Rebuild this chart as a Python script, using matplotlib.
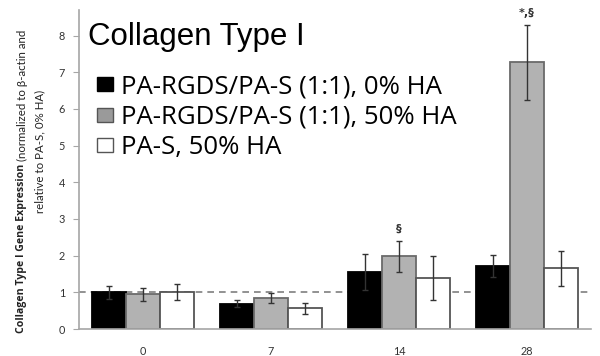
import matplotlib
matplotlib.use("Agg")
import matplotlib.pyplot as plt
import numpy as np
from matplotlib.patches import Rectangle

days = ["0", "7", "14", "28"]
series_names = ["PA-RGDS/PA-S (1:1), 0% HA", "PA-RGDS/PA-S (1:1), 50% HA", "PA-S, 50% HA"]
vals_black = [1.00, 0.69, 1.55, 1.71]
err_black = [0.17, 0.09, 0.49, 0.30]
vals_gray = [0.95, 0.84, 1.98, 7.27]
err_gray = [0.18, 0.13, 0.43, 1.02]
vals_white = [1.01, 0.57, 1.38, 1.65]
err_white = [0.22, 0.15, 0.60, 0.49]
annotations = {(1, 2): "§", (1, 3): "*,§"}

W, H = 600, 356
fig = plt.figure(figsize=(W/100, H/100), dpi=100)
ax = fig.add_axes([79/W, 27/H, 512/W, 8.7*36.67/H])

x = np.arange(len(days))
w = 0.268
offsets = [-w, 0, w]
fills = ["#000000", "#b2b2b2", "#ffffff"]
edges = ["#000000", "#6a6a6a", "#555555"]
all_vals = [vals_black, vals_gray, vals_white]
all_errs = [err_black, err_gray, err_white]
for i in range(3):
    ax.bar(x + offsets[i], all_vals[i], w, color=fills[i], edgecolor=edges[i],
           linewidth=1.3, zorder=2)
    ax.errorbar(x + offsets[i], all_vals[i], yerr=all_errs[i], fmt="none",
                ecolor="#333333", elinewidth=1.0, capsize=2, capthick=1.0, zorder=3)

for (si, ci), txt in annotations.items():
    top = all_vals[si][ci] + all_errs[si][ci]
    ax.text(x[ci] + offsets[si], top + 0.2, txt, ha="center", va="bottom",
            fontsize=8, fontweight="bold", color="#333333", family="DejaVu Sans")

ax.axhline(1.0, color="#7f7f7f", linestyle=(0, (4, 3)), linewidth=1.2, zorder=1)

ax.set_xlim(-0.5, 3.5)
ax.set_ylim(0, 8.7)
ax.set_xticks(x)
ax.set_xticklabels(days)
ax.set_yticks(range(0, 9))
for s in ["top", "right"]:
    ax.spines[s].set_visible(False)
for s in ["left", "bottom"]:
    ax.spines[s].set_color("#a6a6a6")
    ax.spines[s].set_linewidth(1.2)
ax.tick_params(axis="y", length=4, color="#a6a6a6", labelsize=7.8, labelcolor="#333333", pad=6)
ax.tick_params(axis="x", length=0, labelsize=7.8, labelcolor="#333333", pad=12)
for lab in ax.get_xticklabels() + ax.get_yticklabels():
    lab.set_family("Lato")

fig.text(88/W, 1 - 37/H, "Collagen Type I", fontsize=22.5, family="Liberation Sans",
         ha="left", va="center", color="black")

# legend (manual)
baselines = [93, 124, 154]
for i, name in enumerate(series_names):
    yb = baselines[i]
    fig.add_artist(Rectangle((97/W, 1 - (yb - 2)/H), 16/W, 14/H, transform=fig.transFigure,
                             facecolor=fills[i] if i != 1 else "#9a9a9a",
                             edgecolor="#000000" if i == 0 else "#555555", linewidth=1.0))
    fig.text(121/W, 1 - yb/H, name, fontsize=18.5, family="Open Sans",
             ha="left", va="baseline", color="black")

# y label: bold part + normal part, two lines
fig.canvas.draw()
r = fig.canvas.get_renderer()
t1 = fig.text(22/W, 1 - 333/H, "Collagen Type I Gene Expression", rotation=90,
              fontsize=9.0, fontweight="bold", family="Open Sans", ha="center", va="bottom", color="#222222")
bb = t1.get_window_extent(r)
target = 333 - 165
t1.set_fontsize(9.0 * target / bb.height)
bb = t1.get_window_extent(r)
fig.text(22/W, (bb.y1 + 3) / fig.bbox.height, "(normalized to β-actin and", rotation=90,
         fontsize=8.3, family="Lato", ha="center", va="bottom", color="#222222")
fig.text(40/W, 1 - 151/H, "relative to PA-S, 0% HA)", rotation=90,
         fontsize=8.3, family="Lato", ha="center", va="center", color="#222222")

fig.savefig("out.png", dpi=100)
